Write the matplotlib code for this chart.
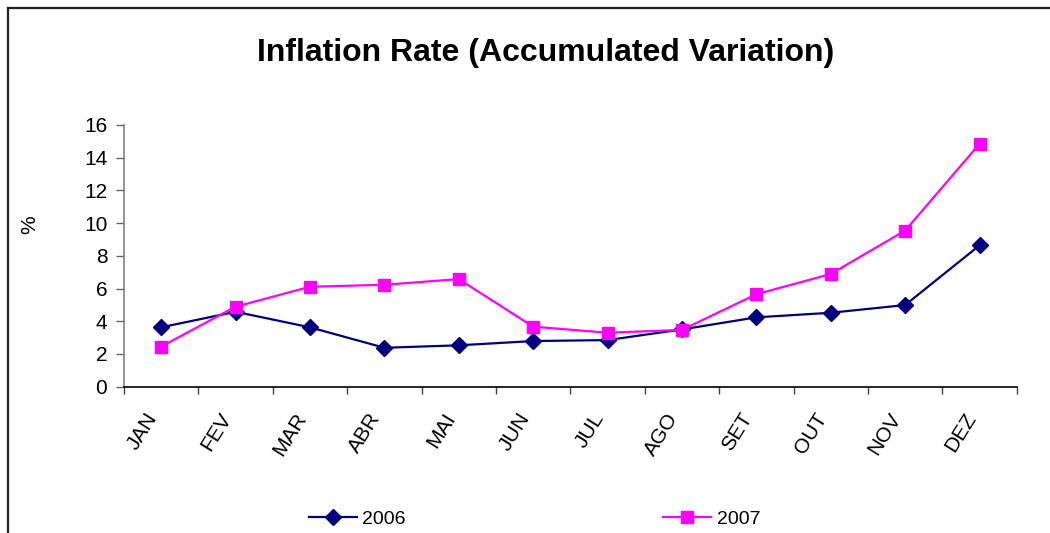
import matplotlib
matplotlib.use("Agg")
import matplotlib.pyplot as plt
from matplotlib.lines import Line2D
from matplotlib.transforms import ScaledTranslation

plt.rcParams['font.family'] = ['Liberation Sans', 'DejaVu Sans']

months = ["JAN", "FEV", "MAR", "ABR", "MAI", "JUN", "JUL", "AGO", "SET", "OUT", "NOV", "DEZ"]
vals_2006 = [3.63, 4.58, 3.63, 2.38, 2.53, 2.79, 2.85, 3.50, 4.24, 4.52, 4.99, 8.64]
vals_2007 = [2.45, 4.89, 6.11, 6.23, 6.58, 3.67, 3.30, 3.47, 5.65, 6.89, 9.54, 14.84]
yticks = [0, 2, 4, 6, 8, 10, 12, 14, 16]

fig = plt.figure(figsize=(10.5, 5.33), dpi=100)
ax = fig.add_axes([0.1181, 0.2745, 0.8502, 0.4910])

x = list(range(len(months)))
l1, = ax.plot(x, vals_2006, color="#000080", lw=1.6, marker="D", ms=8, label="2006")
l2, = ax.plot(x, vals_2007, color="#FF00FF", lw=1.6, marker="s", ms=8.5, label="2007")

ax.set_xlim(-0.5, len(months) - 0.5)
ax.set_ylim(0, 16)
ax.set_yticks(yticks)
ax.set_yticklabels([str(v) for v in yticks], fontsize=15)
ax.set_xticks([i - 0.5 for i in range(len(months) + 1)])
ax.set_xticklabels([])
ax.set_xticks(x, minor=True)
ax.set_xticklabels(months, minor=True, fontsize=15, rotation=58, ha="right", va="center", rotation_mode="anchor")
ax.tick_params(axis="x", which="major", direction="out", length=5, width=1, color="#444444")
ax.tick_params(axis="x", which="minor", length=0, pad=20)
ax.tick_params(axis="y", direction="out", length=6, width=1, color="#666666", pad=6)
shift = ScaledTranslation(-8 / 100, 0, fig.dpi_scale_trans)
for lbl in ax.get_xticklabels(minor=True):
    lbl.set_transform(lbl.get_transform() + shift)

for s in ["top", "right"]:
    ax.spines[s].set_visible(False)
ax.spines["left"].set_color("#808080")
ax.spines["left"].set_linewidth(1.2)
ax.spines["bottom"].set_color("#000000")
ax.spines["bottom"].set_linewidth(1.2)

ax.set_ylabel("%", fontsize=15)
ax.yaxis.set_label_coords(-0.095, 0.62)

fig.text(0.52, 0.90, "Inflation Rate (Accumulated Variation)", fontsize=23, fontweight="bold", ha="center", va="center")

fig.legend(handles=[l1, l2], loc="center left", bbox_to_anchor=(0.2945, 0.026), ncol=2, frameon=False,
           fontsize=14, handlelength=2.45, handletextpad=0.28, columnspacing=13.25, borderaxespad=0, borderpad=0)

fig.add_artist(Line2D([8 / 1050, 8 / 1050], [0, 1 - 8 / 533], transform=fig.transFigure, color="#222222", lw=1.6))
fig.add_artist(Line2D([8 / 1050, 1], [1 - 8 / 533, 1 - 8 / 533], transform=fig.transFigure, color="#222222", lw=1.6))

fig.savefig("out.png", dpi=100)
